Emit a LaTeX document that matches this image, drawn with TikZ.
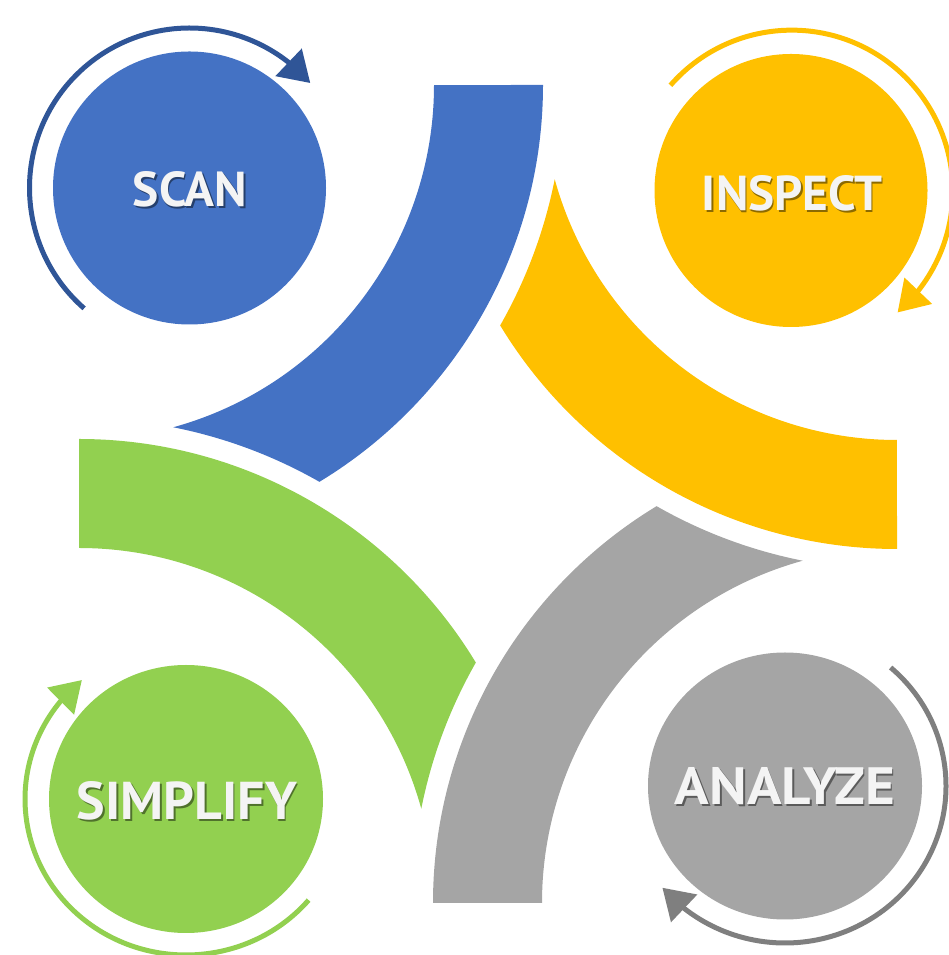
\documentclass[tikz,border=0pt]{standalone}
\usepackage{fontspec}
\newfontfamily\lblfont{PT Sans}
\usetikzlibrary{arrows.meta,bending,shapes.geometric}
\definecolor{cblue}{HTML}{4472C4}
\definecolor{cbluedark}{HTML}{2F5597}
\definecolor{cyellow}{HTML}{FFC000}
\definecolor{cgray}{HTML}{A5A5A5}
\definecolor{cgraydark}{HTML}{7F7F7F}
\definecolor{cgreen}{HTML}{92D050}
\definecolor{ctext}{HTML}{F4F4F4}
\newcommand\bandshape{(543,870) arc[start angle=0,end angle=-58.79,radius=464pt] arc[start angle=60.28,end angle=78.79,radius=485pt] arc[start angle=-74.60,end angle=0,radius=355pt] -- cycle}
\newcommand\wordbox[3]{\resizebox{#1}{#2}{\lblfont\bfseries #3}}
% width, height, word, shadow colour
\newcommand\wordlbl[4]{\rlap{\smash{\hspace*{1.5pt}\raisebox{-1.5pt}{\textcolor{#4}{\wordbox{#1}{#2}{#3}}}}}\textcolor{ctext}{\wordbox{#1}{#2}{#3}}}
\tikzset{
  ball/.style={ellipse, draw=none, inner sep=0pt},
  lbl/.style={inner sep=0pt},
  ring/.style={line width=5pt, -{Triangle[length=30pt,width=37pt,flex]}}
}
\begin{document}
\begin{tikzpicture}[x=1pt,y=1pt]
\useasboundingbox (0,0) rectangle (949,955);
% curved bands
\fill[cblue] \bandshape;
\begin{scope}[rotate around={-90:(488,461)}]
  \fill[cyellow] \bandshape;
\end{scope}
\begin{scope}[rotate around={-180:(488,461)}]
  \fill[cgray] \bandshape;
\end{scope}
\begin{scope}[rotate around={-270:(488,461)}]
  \fill[cgreen] \bandshape;
\end{scope}
% circles
\node[ball, fill=cblue, minimum width=273pt, minimum height=273pt] (scan) at (189.5,767) {};
\node[ball, fill=cyellow, minimum width=273pt, minimum height=273pt] (inspect) at (791,764.5) {};
\node[ball, fill=cgreen, minimum width=274pt, minimum height=268pt] (simplify) at (186,156) {};
\node[ball, fill=cgray, minimum width=274pt, minimum height=267pt] (analyze) at (785,169) {};
% cycle arcs
\draw[ring, cbluedark] ([shift={(228.8:160pt)}]scan.center) arc[start angle=228.8, end angle=41, radius=160pt];
\draw[ring, cyellow] ([shift={(138.9:160pt)}]inspect.center) arc[start angle=138.9, end angle=-48.9, radius=161pt];
\draw[ring, cgraydark] ([shift={(49:161pt and 157pt)}]analyze.center) arc[start angle=49, end angle=-139.6, x radius=161pt, y radius=157pt];
\draw[ring, cgreen] ([shift={(-40.4:161pt and 156pt)}]simplify.center) arc[start angle=-40.4, end angle=-229.7, x radius=161pt, y radius=156pt];
% labels
\node[lbl] (scanT) at (190,765.5) {\wordlbl{114pt}{35pt}{SCAN}{cblue!55!black}};
\node[lbl] (inspectT) at (792,761.5) {\wordlbl{180pt}{35pt}{INSPECT}{cyellow!55!black}};
\node[lbl] (simplifyT) at (187,154) {\wordlbl{220pt}{38pt}{SIMPLIFY}{cgreen!55!black}};
\node[lbl] (analyzeT) at (785,168.5) {\wordlbl{220pt}{37pt}{ANALYZE}{cgray!55!black}};
\end{tikzpicture}
\end{document}
